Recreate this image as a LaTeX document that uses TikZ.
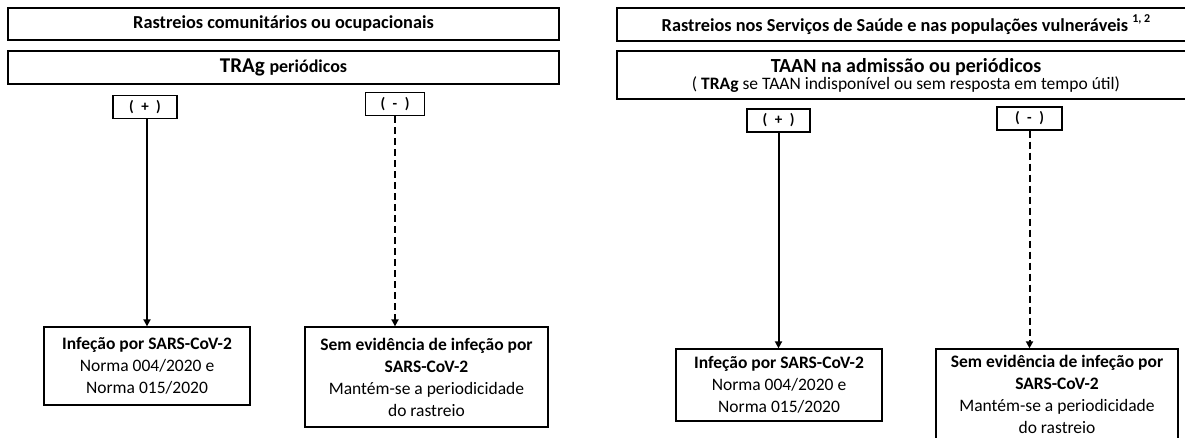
\documentclass[tikz,border=0pt]{standalone}
\usepackage{fontspec}
\setmainfont{Carlito}
\usetikzlibrary{arrows.meta}
\newcommand{\sgn}[1]{(\hspace{0.5em}#1\hspace{0.5em})}
\tikzset{
  box/.style={draw=black, line width=1.3pt, fill=white, inner sep=0pt, align=center},
  signbox/.style={box, font=\fontsize{15}{18}\selectfont\bfseries},
  headtxt/.style={font=\fontsize{18.3}{22}\selectfont\bfseries},
  restxt/.style={font=\fontsize{17.5}{22}\selectfont},
  posarrow/.style={line width=2pt, -{Triangle[length=7pt,width=7pt]}},
  negarrow/.style={line width=2pt, dash pattern=on 7pt off 4pt, -{Triangle[length=7pt,width=7pt]}}
}
\begin{document}
\begin{tikzpicture}[x=1pt,y=-1pt]
\path[clip] (0,0) rectangle (1185,437);
\fill[white] (0,0) rectangle (1185,437);
% left column
\node[box, headtxt, minimum width=551pt, minimum height=32pt] (b1) at (283.5,24) {Rastreios comunitários ou ocupacionais};
\node[box, minimum width=551pt, minimum height=33pt] (b2) at (283.5,67.5) {\fontsize{21}{24}\selectfont\bfseries TRAg \fontsize{18}{22}\selectfont periódicos};
\node[signbox, minimum width=64pt, minimum height=23pt] (p1) at (145,107) {\sgn{+}};
\node[signbox, minimum width=59pt, minimum height=23pt] (m1) at (395,104) {\sgn{-}};
\node[box, restxt, minimum width=206pt, minimum height=78pt] (i1) at (147,366) {\textbf{Infeção por SARS-CoV-2}\\Norma 004/2020 e\\Norma 015/2020};
\node[box, restxt, minimum width=243pt, minimum height=100pt] (s1) at (426.5,377) {\textbf{Sem evidência de infeção por}\\\textbf{SARS-CoV-2}\\Mantém-se a periodicidade\\do rastreio};
\draw[posarrow] (i1.north |- p1.south) -- (i1.north);
\draw[negarrow] (m1.south) -- (m1.south |- s1.north);
% right column
\node[box, headtxt, minimum width=578pt, minimum height=33pt] (b3) at (906,24.5) {Rastreios nos Serviços de Saúde e nas populações vulneráveis \raisebox{0.45em}{\fontsize{12}{14}\selectfont 1, 2}};
\node[box, minimum width=578pt, minimum height=48pt] (b4) at (906,75) {\fontsize{20}{21}\selectfont\bfseries TAAN na admissão ou periódicos\\\fontsize{17.5}{21}\selectfont\mdseries ( \textbf{TRAg} se TAAN indisponível ou sem resposta em tempo útil)};
\node[signbox, minimum width=63pt, minimum height=23pt] (p2) at (778.5,120.5) {\sgn{+}};
\node[signbox, minimum width=65pt, minimum height=23pt] (m2) at (1029.5,118.5) {\sgn{-}};
\node[box, restxt, minimum width=206pt, minimum height=72pt] (i2) at (779,385) {\textbf{Infeção por SARS-CoV-2}\\Norma 004/2020 e\\Norma 015/2020};
\node[box, restxt, minimum width=242pt, minimum height=90pt] (s2) at (1057,394) {\textbf{Sem evidência de infeção por}\\\textbf{SARS-CoV-2}\\Mantém-se a periodicidade\\do rastreio};
\draw[posarrow] (p2.south) -- (p2.south |- i2.north);
\draw[negarrow] (m2.south) -- (m2.south |- s2.north);
\end{tikzpicture}
\end{document}
